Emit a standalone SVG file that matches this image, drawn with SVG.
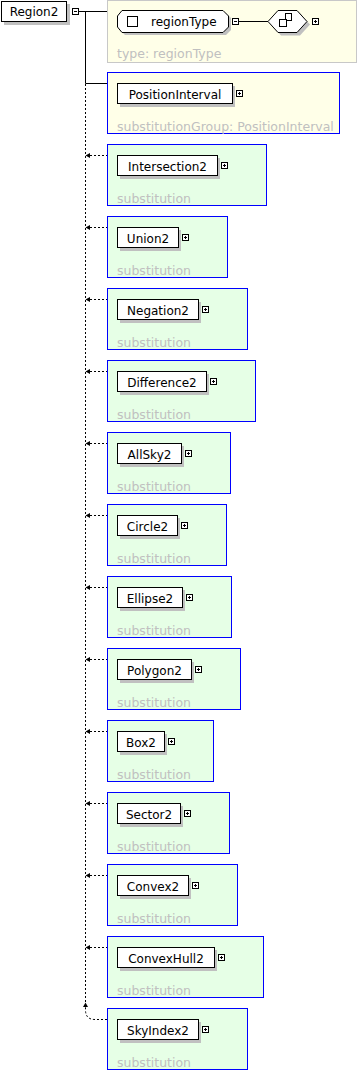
<svg xmlns="http://www.w3.org/2000/svg" width="359" height="1072" viewBox="0 0 359 1072">
<style>
  text { font-family: "DejaVu Sans", "Liberation Sans", sans-serif; font-size: 12px; }
  .name { fill: #000; text-anchor: middle; }
  .note { fill: #c0c0c0; font-size: 12.5px; }
  .el { fill: #fff; stroke: #000; stroke-width: 1; }
  .shadow { fill: #c0c0c0; stroke: none; }
  .icon { fill: #fff; stroke: #000; stroke-width: 1; }
  .glyph { stroke: #000; stroke-width: 1; fill: none; }
  .typebox { fill: #ffffe8; stroke: #c8c8c8; stroke-width: 1; }
  .subgroup { fill: #ffffe8; stroke: #0000ff; stroke-width: 1; }
  .sub { fill: #e6ffe6; stroke: #0000ff; stroke-width: 1; }
  .solid { stroke: #000; stroke-width: 1; fill: none; }
  .dotted { stroke: #000; stroke-width: 1; fill: none; stroke-dasharray: 2 2; }
  .head { fill: #000; stroke: none; }
</style>
<defs>
  <g id="plus">
    <rect class="icon" x="0.5" y="0.5" width="6" height="6"/>
    <path class="glyph" d="M2 3.5H5M3.5 2V5"/>
  </g>
  <g id="minus">
    <rect class="icon" x="0.5" y="0.5" width="6" height="6"/>
    <path class="glyph" d="M2 3.5H5"/>
  </g>
</defs>

<!-- connectors -->
<g id="connectors">
  <path class="solid" d="M79 11.5H107.5"/>
  <path class="solid" d="M85.5 11.5V83.5H107.5"/>
  <path class="dotted" d="M85.5 84V1008"/>
  <g id="sub-links">
    <path class="dotted" d="M90 155.5H107"/>
    <path class="dotted" d="M90 227.5H107"/>
    <path class="dotted" d="M90 299.5H107"/>
    <path class="dotted" d="M90 371.5H107"/>
    <path class="dotted" d="M90 443.5H107"/>
    <path class="dotted" d="M90 515.5H107"/>
    <path class="dotted" d="M90 587.5H107"/>
    <path class="dotted" d="M90 659.5H107"/>
    <path class="dotted" d="M90 731.5H107"/>
    <path class="dotted" d="M90 803.5H107"/>
    <path class="dotted" d="M90 875.5H107"/>
    <path class="dotted" d="M90 947.5H107"/>
    <path class="dotted" d="M107 1019.5H95Q85.5 1019.5 85.5 1010V1007"/>
  </g>
  <g id="heads">
    <path class="head" d="M85.5 155.5L90 153V158Z"/>
    <path class="head" d="M85.5 227.5L90 225V230Z"/>
    <path class="head" d="M85.5 299.5L90 297V302Z"/>
    <path class="head" d="M85.5 371.5L90 369V374Z"/>
    <path class="head" d="M85.5 443.5L90 441V446Z"/>
    <path class="head" d="M85.5 515.5L90 513V518Z"/>
    <path class="head" d="M85.5 587.5L90 585V590Z"/>
    <path class="head" d="M85.5 659.5L90 657V662Z"/>
    <path class="head" d="M85.5 731.5L90 729V734Z"/>
    <path class="head" d="M85.5 803.5L90 801V806Z"/>
    <path class="head" d="M85.5 875.5L90 873V878Z"/>
    <path class="head" d="M85.5 947.5L90 945V950Z"/>
    <path class="head" d="M85.5 1002.5L83 1007H88Z"/>
  </g>
</g>

<!-- root element -->
<g id="Region2">
  <rect class="shadow" x="4" y="4" width="66" height="21"/>
  <rect class="el" x="1.5" y="1.5" width="65" height="20"/>
  <text class="name" x="34" y="16">Region2</text>
  <use href="#minus" x="72" y="8"/>
</g>

<!-- complex type with its sequence compositor -->
<g id="regionType">
  <rect class="typebox" x="107.5" y="0.5" width="249" height="62"/>
  <polygon class="shadow" points="125,13 226,13 231,18 231,30 226,35 125,35 120,30 120,18"/>
  <polygon class="el" points="122,10.5 223,10.5 228.5,16 228.5,27 223,32.5 122,32.5 117.5,27 117.5,16"/>
  <rect class="icon" x="127.5" y="16.5" width="10" height="10"/>
  <text x="151" y="26" fill="#000">regionType</text>
  <use href="#minus" x="232" y="18"/>
  <path class="solid" d="M239 21.5H268"/>
  <polygon class="shadow" points="271,24.5 281,13.5 300,13.5 310,24.5 300,35.5 281,35.5"/>
  <polygon class="el" points="268,21.5 278,10.5 297,10.5 307,21.5 297,32.5 278,32.5"/>
  <rect class="icon" x="285.5" y="13.5" width="6" height="7"/>
  <rect class="icon" x="279.5" y="19.5" width="7" height="7"/>
  <use href="#plus" x="312" y="18"/>
  <text class="note" x="117" y="58">type: regionType</text>
</g>

<g id="PositionInterval">
  <rect class="subgroup" x="107.5" y="72.5" width="232" height="61"/>
  <rect class="shadow" x="120" y="86" width="115" height="21"/>
  <rect class="el" x="117.5" y="83.5" width="115" height="20"/>
  <text class="name" x="175" y="98.5">PositionInterval</text>
  <use href="#plus" x="236" y="90"/>
  <text class="note" x="117" y="130.5">substitutionGroup: PositionInterval</text>
</g>

<g id="Intersection2">
  <rect class="sub" x="107.5" y="144.5" width="159" height="61"/>
  <rect class="shadow" x="120" y="158" width="100" height="21"/>
  <rect class="el" x="117.5" y="155.5" width="100" height="20"/>
  <text class="name" x="167.5" y="170.5">Intersection2</text>
  <use href="#plus" x="221" y="162"/>
  <text class="note" x="117" y="202.5">substitution</text>
</g>

<g id="Union2">
  <rect class="sub" x="107.5" y="216.5" width="120" height="61"/>
  <rect class="shadow" x="120" y="230" width="61" height="21"/>
  <rect class="el" x="117.5" y="227.5" width="61" height="20"/>
  <text class="name" x="148" y="242.5">Union2</text>
  <use href="#plus" x="182" y="234"/>
  <text class="note" x="117" y="274.5">substitution</text>
</g>

<g id="Negation2">
  <rect class="sub" x="107.5" y="288.5" width="140" height="61"/>
  <rect class="shadow" x="120" y="302" width="81" height="21"/>
  <rect class="el" x="117.5" y="299.5" width="81" height="20"/>
  <text class="name" x="158" y="314.5">Negation2</text>
  <use href="#plus" x="202" y="306"/>
  <text class="note" x="117" y="346.5">substitution</text>
</g>

<g id="Difference2">
  <rect class="sub" x="107.5" y="360.5" width="148" height="61"/>
  <rect class="shadow" x="120" y="374" width="89" height="21"/>
  <rect class="el" x="117.5" y="371.5" width="89" height="20"/>
  <text class="name" x="162" y="386.5">Difference2</text>
  <use href="#plus" x="210" y="378"/>
  <text class="note" x="117" y="418.5">substitution</text>
</g>

<g id="AllSky2">
  <rect class="sub" x="107.5" y="432.5" width="123" height="61"/>
  <rect class="shadow" x="120" y="446" width="64" height="21"/>
  <rect class="el" x="117.5" y="443.5" width="64" height="20"/>
  <text class="name" x="149.5" y="458.5">AllSky2</text>
  <use href="#plus" x="185" y="450"/>
  <text class="note" x="117" y="490.5">substitution</text>
</g>

<g id="Circle2">
  <rect class="sub" x="107.5" y="504.5" width="119" height="61"/>
  <rect class="shadow" x="120" y="518" width="60" height="21"/>
  <rect class="el" x="117.5" y="515.5" width="60" height="20"/>
  <text class="name" x="147.5" y="530.5">Circle2</text>
  <use href="#plus" x="181" y="522"/>
  <text class="note" x="117" y="562.5">substitution</text>
</g>

<g id="Ellipse2">
  <rect class="sub" x="107.5" y="576.5" width="124" height="61"/>
  <rect class="shadow" x="120" y="590" width="65" height="21"/>
  <rect class="el" x="117.5" y="587.5" width="65" height="20"/>
  <text class="name" x="150" y="602.5">Ellipse2</text>
  <use href="#plus" x="186" y="594"/>
  <text class="note" x="117" y="634.5">substitution</text>
</g>

<g id="Polygon2">
  <rect class="sub" x="107.5" y="648.5" width="133" height="61"/>
  <rect class="shadow" x="120" y="662" width="74" height="21"/>
  <rect class="el" x="117.5" y="659.5" width="74" height="20"/>
  <text class="name" x="154.5" y="674.5">Polygon2</text>
  <use href="#plus" x="195" y="666"/>
  <text class="note" x="117" y="706.5">substitution</text>
</g>

<g id="Box2">
  <rect class="sub" x="107.5" y="720.5" width="106" height="61"/>
  <rect class="shadow" x="120" y="734" width="47" height="21"/>
  <rect class="el" x="117.5" y="731.5" width="47" height="20"/>
  <text class="name" x="141" y="746.5">Box2</text>
  <use href="#plus" x="168" y="738"/>
  <text class="note" x="117" y="778.5">substitution</text>
</g>

<g id="Sector2">
  <rect class="sub" x="107.5" y="792.5" width="122" height="61"/>
  <rect class="shadow" x="120" y="806" width="63" height="21"/>
  <rect class="el" x="117.5" y="803.5" width="63" height="20"/>
  <text class="name" x="149" y="818.5">Sector2</text>
  <use href="#plus" x="184" y="810"/>
  <text class="note" x="117" y="850.5">substitution</text>
</g>

<g id="Convex2">
  <rect class="sub" x="107.5" y="864.5" width="130" height="61"/>
  <rect class="shadow" x="120" y="878" width="71" height="21"/>
  <rect class="el" x="117.5" y="875.5" width="71" height="20"/>
  <text class="name" x="153" y="890.5">Convex2</text>
  <use href="#plus" x="192" y="882"/>
  <text class="note" x="117" y="922.5">substitution</text>
</g>

<g id="ConvexHull2">
  <rect class="sub" x="107.5" y="936.5" width="156" height="61"/>
  <rect class="shadow" x="120" y="950" width="97" height="21"/>
  <rect class="el" x="117.5" y="947.5" width="97" height="20"/>
  <text class="name" x="166" y="962.5">ConvexHull2</text>
  <use href="#plus" x="218" y="954"/>
  <text class="note" x="117" y="994.5">substitution</text>
</g>

<g id="SkyIndex2">
  <rect class="sub" x="107.5" y="1008.5" width="140" height="61"/>
  <rect class="shadow" x="120" y="1022" width="81" height="21"/>
  <rect class="el" x="117.5" y="1019.5" width="81" height="20"/>
  <text class="name" x="158" y="1034.5">SkyIndex2</text>
  <use href="#plus" x="202" y="1026"/>
  <text class="note" x="117" y="1066.5">substitution</text>
</g>
</svg>
